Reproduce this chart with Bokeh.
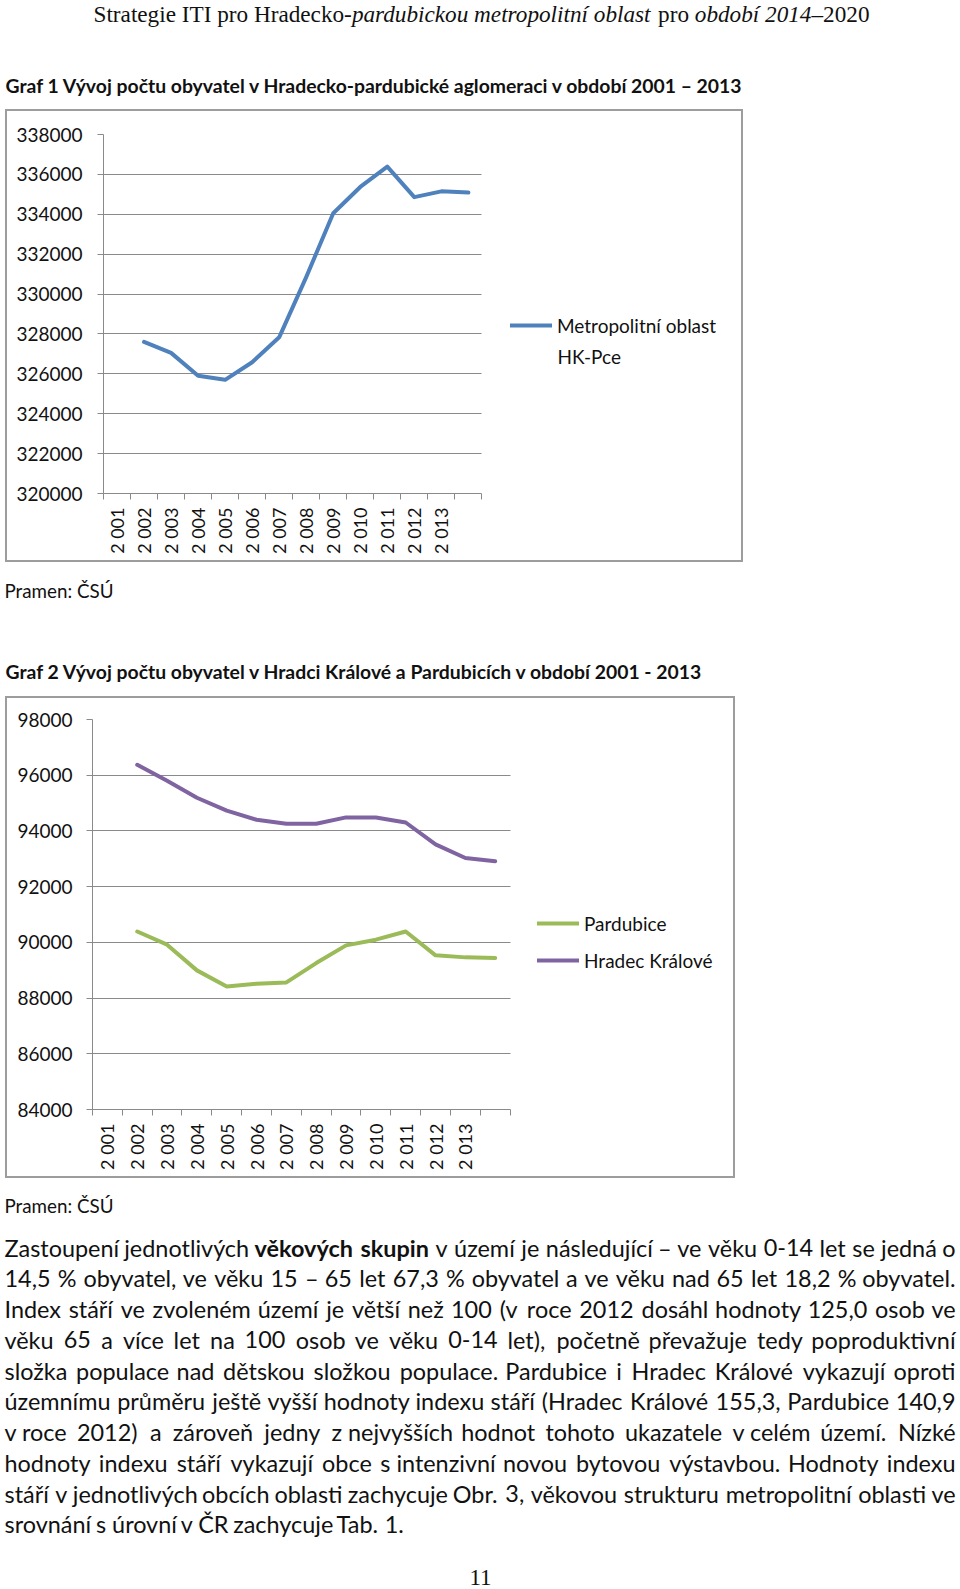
import math
import unicodedata
from bokeh.plotting import figure
from bokeh.layouts import column
from bokeh.models import (Range1d, FixedTicker, BasicTickFormatter, Legend, LegendItem,
                          Label, ColumnDataSource)
from bokeh.core.properties import value, field
from bokeh.embed import file_html
from bokeh.resources import INLINE

# ---------------- data ----------------
years = list(range(2001, 2014))
year_tick_labels = ["2 001", "2 002", "2 003", "2 004", "2 005", "2 006", "2 007",
                    "2 008", "2 009", "2 010", "2 011", "2 012", "2 013"]
metro = [327600, 327050, 325900, 325700, 326580, 327830, 330850,
         334050, 335370, 336390, 334860, 335150, 335090]
pardubice = [90390, 89916, 88994, 88419, 88515, 88563, 89257,
             89892, 90096, 90388, 89533, 89461, 89437]
hradec = [96376, 95800, 95190, 94727, 94400, 94255, 94255,
          94485, 94485, 94303, 93515, 93030, 92909]
metro_ticks = list(range(320000, 338001, 2000))
city_ticks = list(range(84000, 98001, 2000))
# In the source charts each series is drawn one category slot to the right of its year label
label_slots = [y - 2000 for y in years]      # 1..13
series_slots = [y - 1999 for y in years]     # 2..14
n_slots = 14

header_segments = [("Strategie ITI pro Hradecko-", "normal", 0),
                   ("pardubickou metropolitní oblast", "italic", 0),
                   ("pro", "normal", 1),
                   ("období 2014", "italic", 1),
                   ("–2020", "normal", 0)]
title1 = "Graf 1 Vývoj počtu obyvatel v Hradecko-pardubické aglomeraci v období 2001 – 2013"
title2 = "Graf 2 Vývoj počtu obyvatel v Hradci Králové a Pardubicích v období 2001 - 2013"
source_text = "Pramen: ČSÚ"
legend1 = ["Metropolitní oblast", "HK-Pce"]
legend2 = ["Pardubice", "Hradec Králové"]
body_lines = [
    "Zastoupení jednotlivých **věkových** **skupin** v území je následující – ve věku 0-14 let se jedná o",
    "14,5 % obyvatel, ve věku 15 – 65 let 67,3 % obyvatel a ve věku nad 65 let 18,2 % obyvatel.",
    "Index stáří ve zvoleném území je větší než 100 (v roce 2012 dosáhl hodnoty 125,0 osob ve",
    "věku 65 a více let na 100 osob ve věku 0-14 let), početně převažuje tedy poproduktivní",
    "složka populace nad dětskou složkou populace. Pardubice i Hradec Králové vykazují oproti",
    "územnímu průměru ještě vyšší hodnoty indexu stáří (Hradec Králové 155,3, Pardubice 140,9",
    "v\u00a0roce 2012) a zároveň jedny z\u00a0nejvyšších hodnot tohoto ukazatele v\u00a0celém území. Nízké",
    "hodnoty indexu stáří vykazují obce s\u00a0intenzivní novou bytovou výstavbou. Hodnoty indexu",
    "stáří v\u00a0jednotlivých obcích oblasti zachycuje Obr. 3, věkovou strukturu metropolitní oblasti ve",
    "srovnání s\u00a0úrovní v\u00a0ČR zachycuje Tab. 1.",
]
page_number = "11"

# ---------------- approximate font metrics (em) ----------------
def _table(lower, upper, digit, extra):
    t = {}
    for ch, w in zip("abcdefghijklmnopqrstuvwxyz", lower):
        t[ch] = w
    for ch, w in zip("ABCDEFGHIJKLMNOPQRSTUVWXYZ", upper):
        t[ch] = w
    for ch in "0123456789":
        t[ch] = digit
    t.update(extra)
    return t

LATO = _table([.479, .554, .454, .554, .515, .332, .499, .55, .245, .245, .515, .245, .827,
               .55, .548, .549, .554, .383, .421, .356, .55, .507, .775, .49, .507, .443],
              [.68, .645, .69, .76, .56, .545, .74, .77, .29, .40, .67, .49, .92, .77, .80,
               .60, .80, .63, .53, .58, .74, .68, 1.03, .66, .62, .61], .58,
              {" ": .193, "\u00a0": .193, ".": .22, ",": .22, ":": .24, "-": .35,
               "–": .53, "(": .31, ")": .31, "%": .78})
TIMES = _table([.444, .5, .444, .5, .444, .333, .5, .5, .278, .278, .5, .278, .778, .5, .5,
                .5, .5, .333, .389, .278, .5, .5, .722, .5, .5, .444],
               [.722, .667, .667, .722, .611, .556, .722, .722, .333, .389, .722, .611, .889,
                .722, .722, .556, .722, .667, .556, .611, .722, .722, .944, .722, .722, .611],
               .5, {" ": .25, "-": .333, "–": .5})
TIMES_I = _table([.5, .5, .444, .5, .444, .278, .5, .5, .278, .278, .444, .278, .722, .5, .5,
                  .5, .5, .389, .389, .278, .5, .444, .667, .444, .444, .389],
                 [.611, .611, .667, .722, .611, .611, .722, .722, .333, .444, .667, .556, .833,
                  .667, .722, .611, .722, .611, .5, .556, .722, .611, .833, .611, .556, .556],
                 .5, {" ": .25, "-": .333, "–": .5})


def em(text, table, factor=1.0):
    s = 0.0
    for c in text:
        b = unicodedata.normalize("NFD", c)[0]
        s += table.get(b, .55)
    return s * factor

BOLD = 1.03
PAGE_W = 960
TEXT_L, TEXT_R = 4, 955
INK = "#111111"
GRID = "#8a8a8a"
BORDER = 2


def no_align(f):
    try:
        f.frame_align = False
    except Exception:
        pass


def text_fig(h):
    f = figure(width=PAGE_W, height=h, x_range=Range1d(0, PAGE_W), y_range=Range1d(h, 0),
               x_axis_location=None, y_axis_location=None, output_backend="svg",
               toolbar_location=None, min_border=0)
    f.outline_line_color = None
    f.grid.visible = False
    no_align(f)
    return f


def add_words(f, xs, ys, texts, styles, font, size, align="left"):
    src = ColumnDataSource(dict(x=xs, y=ys, text=texts, style=styles))
    f.text(x="x", y="y", text="text", source=src, text_font=value(font),
           text_font_size=value(f"{size:.2f}px"), text_font_style=field("style"),
           text_align=align, text_baseline="middle", text_color=INK)

# ---------------- top text block (page y 0..109) ----------------
top = text_fig(109)
h_em = sum(em(t, TIMES_I if s == "italic" else TIMES) + sp * .25 for t, s, sp in header_segments)
h_size = 776 / h_em
hx = 481 - h_em * h_size / 2
xs, ts, ss = [], [], []
for t, s, sp in header_segments:
    hx += sp * .25 * h_size
    xs.append(hx); ts.append(t); ss.append(s)
    hx += em(t, TIMES_I if s == "italic" else TIMES) * h_size
add_words(top, xs, [13] * len(xs), ts, ss, "Liberation Serif", h_size)

t_size = 0.993 * 738 / em(title1, LATO, BOLD)
add_words(top, [5], [85], [title1], ["bold"], "Lato", t_size)

# ---------------- chart helper ----------------
def chart(width, height, y0, y1, ticks, mbl, plot_w, mbt, mbb, ystand):
    """width/height: outer box incl. border; plot_w: pixel width of the 14 category
    slots; the frame extends further right so that the legend sits inside it."""
    mbr = 8
    frame_w = (width - 2 * BORDER) - mbl - mbr
    slot_px = plot_w / n_slots
    x_end = 0.5 + frame_w / slot_px
    p = figure(width=width, height=height, x_range=Range1d(0.5, x_end),
               y_range=Range1d(y0, y1), output_backend="svg", toolbar_location=None,
               min_border_left=mbl, min_border_right=mbr, min_border_top=mbt,
               min_border_bottom=mbb)
    no_align(p)
    p.margin = (0, 0, 0, 5)
    p.styles = {"border": f"{BORDER}px solid #9d9d9d"}
    p.outline_line_color = None
    p.background_fill_color = "white"
    p.border_fill_color = "white"
    p.xgrid.visible = False
    yt = FixedTicker(ticks=ticks)
    p.yaxis.ticker = yt
    p.ygrid.ticker = yt
    p.ygrid.grid_line_color = GRID
    try:
        p.ygrid.cross_bounds = (0.5, n_slots + 0.5)
    except Exception:
        p.ygrid.visible = False
        p.segment(x0=[0.5] * len(ticks), x1=[n_slots + 0.5] * len(ticks), y0=ticks, y1=ticks,
                  line_color=GRID, line_width=1)
    p.yaxis.formatter = BasicTickFormatter(use_scientific=False)
    p.yaxis.major_tick_out = 6
    p.yaxis.major_tick_in = 0
    p.yaxis.minor_tick_out = 0
    p.yaxis.minor_tick_in = 0
    p.yaxis.major_label_standoff = ystand
    xt = FixedTicker(ticks=label_slots, minor_ticks=[i + 0.5 for i in range(n_slots + 1)])
    p.xaxis.ticker = xt
    p.xaxis.bounds = (0.5, n_slots + 0.5)
    p.xaxis.major_label_overrides = {s: lab for s, lab in zip(label_slots, year_tick_labels)}
    p.xaxis.major_tick_out = 0
    p.xaxis.major_tick_in = 0
    p.xaxis.minor_tick_out = 6
    p.xaxis.minor_tick_in = 0
    p.xaxis.major_label_orientation = math.pi / 2
    p.xaxis.major_label_standoff = 8
    for ax in (p.xaxis, p.yaxis):
        ax.axis_line_color = GRID
        ax.minor_tick_line_color = GRID
        ax.major_label_text_font = "Lato"
        ax.major_label_text_color = INK
    p.yaxis.major_tick_line_color = GRID
    p.xaxis.major_tick_line_color = None
    p.yaxis.major_label_text_font_size = "19px"
    p.xaxis.major_label_text_font_size = "18px"
    return p


def legend(items, loc, spacing):
    return Legend(items=items, location=loc, orientation="vertical", padding=0, margin=0,
                  spacing=spacing, glyph_width=42, glyph_height=24, label_height=24,
                  label_standoff=5, label_text_font="Lato", label_text_font_size="19px",
                  label_text_color=INK, border_line_color=None, background_fill_alpha=0)

# ---------------- chart 1 (page y 109..562) ----------------
p1 = chart(738, 453, 320000, 338000, metro_ticks, 96, 376, 23, 71, 15)
r1 = p1.line(series_slots, metro, line_width=4, color="#4F81BD", line_join="round",
             line_cap="round")
p1.add_layout(legend([LegendItem(label=legend1[0], renderers=[r1])], (407, 156), 0))
p1.add_layout(Label(x=454, y=137, x_units="screen", y_units="screen", text=legend1[1],
                    text_font="Lato", text_font_size="19px", text_baseline="middle",
                    text_color=INK))

# ---------------- middle text block (page y 562..696) ----------------
mid = text_fig(134)
s_size = 108 / em(source_text, LATO)
add_words(mid, [4], [28], [source_text], ["normal"], "Lato", s_size)
add_words(mid, [5], [109], [title2], ["bold"], "Lato", t_size)

# ---------------- chart 2 (page y 696..1178) ----------------
p2 = chart(730, 482, 84000, 98000, city_ticks, 85, 415, 21, 71, 14)
rp = p2.line(series_slots, pardubice, line_width=4, color="#9BBB59", line_join="round",
             line_cap="round")
rh = p2.line(series_slots, hradec, line_width=4, color="#8064A2", line_join="round",
             line_cap="round")
p2.add_layout(legend([LegendItem(label=legend2[0], renderers=[rp]),
                      LegendItem(label=legend2[1], renderers=[rh])], (445, 137), 13))

# ---------------- bottom text block (page y 1178..1589) ----------------
bot = text_fig(411)
add_words(bot, [4], [27], [source_text], ["normal"], "Lato", s_size)

parsed = []
for line in body_lines:
    toks = []
    for tok in line.split(" "):
        if tok.startswith("**"):
            toks.append((tok.strip("*"), "bold"))
        else:
            toks.append((tok, "normal"))
    parsed.append(toks)


def tok_em(t, s):
    return em(t, LATO, BOLD if s == "bold" else 1.0)

text_w = TEXT_R - TEXT_L
line_ems = [sum(tok_em(t, s) for t, s in toks) + (len(toks) - 1) * .193 for toks in parsed[:-1]]
b_size = min(24.0, 0.975 * text_w / max(line_ems))
lx, ly, lt, ls = [], [], [], []   # left-aligned words
rx, ry, rt, rs = [], [], [], []   # right-aligned final words of justified lines
for i, toks in enumerate(parsed):
    y = 69 + i * 30.75
    widths = [tok_em(t, s) * b_size for t, s in toks]
    justified = i < len(parsed) - 1
    gap = (text_w - sum(widths)) / (len(toks) - 1) if justified else .22 * b_size
    x = TEXT_L
    for k, ((t, s), w) in enumerate(zip(toks, widths)):
        if justified and k == len(toks) - 1:
            rx.append(TEXT_R); ry.append(y); rt.append(t); rs.append(s)
        else:
            lx.append(x); ly.append(y); lt.append(t); ls.append(s)
        x += w + gap
add_words(bot, lx, ly, lt, ls, "Lato", b_size)
add_words(bot, rx, ry, rt, rs, "Lato", b_size, align="right")
add_words(bot, [480], [399], [page_number], ["normal"], "Liberation Serif", 23, align="center")

layout = column(top, p1, mid, p2, bot, spacing=0)
open("out.html", "w").write(file_html(layout, INLINE))
